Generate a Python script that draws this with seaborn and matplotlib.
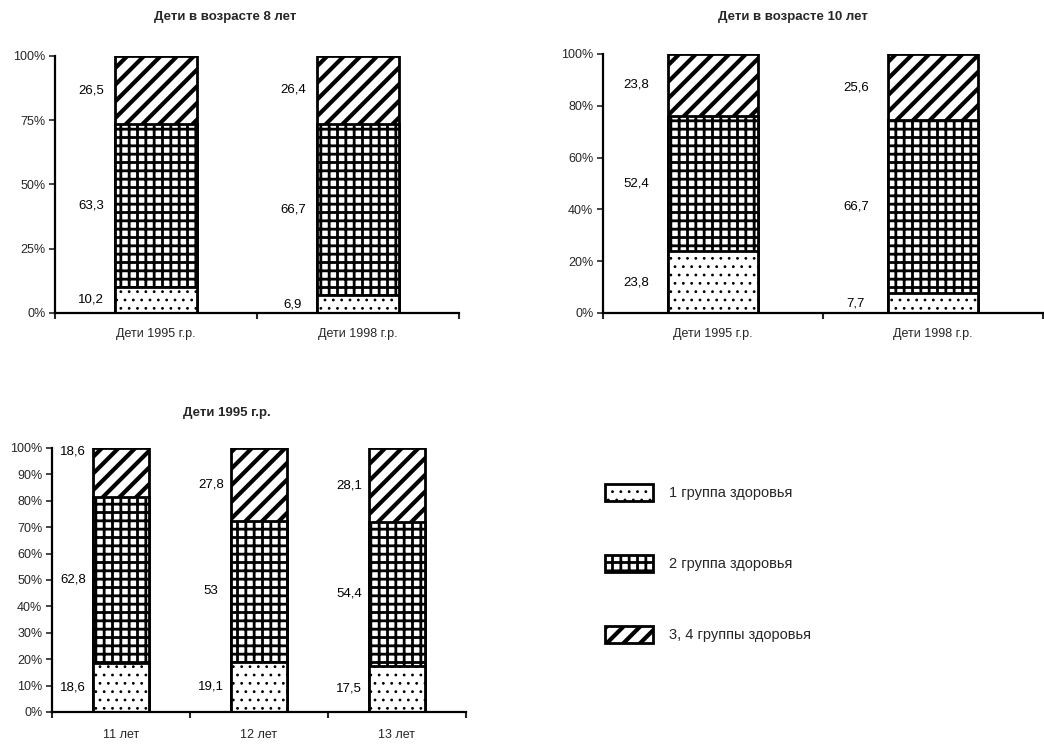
import matplotlib
matplotlib.use("Agg")
import matplotlib.pyplot as plt
import seaborn as sns
import pandas as pd
import numpy as np
from matplotlib.patches import Patch

# ---------------- data ----------------
groups = ["1 группа здоровья", "2 группа здоровья", "3, 4 группы здоровья"]

titles = ["Дети в возрасте 8 лет", "Дети в возрасте 10 лет", "Дети 1995 г.р."]

a8_cats = ["Дети 1995 г.р.", "Дети 1998 г.р."]
a8_g1 = [10.2, 6.9]
a8_g2 = [63.3, 66.7]
a8_g3 = [26.5, 26.4]

a10_cats = ["Дети 1995 г.р.", "Дети 1998 г.р."]
a10_g1 = [23.8, 7.7]
a10_g2 = [52.4, 66.7]
a10_g3 = [23.8, 25.6]

c95_cats = ["11 лет", "12 лет", "13 лет"]
c95_g1 = [18.6, 19.1, 17.5]
c95_g2 = [62.8, 53.0, 54.4]
c95_g3 = [18.6, 27.8, 28.1]

yticks_8 = [0, 25, 50, 75, 100]
yticks_10 = [0, 20, 40, 60, 80, 100]
yticks_95 = [0, 10, 20, 30, 40, 50, 60, 70, 80, 90, 100]

# ---------------- style ----------------
sns.set_style("ticks")
plt.rcParams["font.family"] = ["Liberation Sans Narrow", "Liberation Sans", "DejaVu Sans"]
plt.rcParams["hatch.color"] = "black"

HATCHES = ["..", "++", "//"]
HATCH_LW = [0.8, 2.0, 3.0]

fig = plt.figure(figsize=(10.44, 7.46), dpi=100)
W, H = 1044.0, 746.0


def px_axes(l, r, t, b):
    return fig.add_axes([l / W, 1 - b / H, (r - l) / W, (b - t) / H])


def fmt(v):
    return f"{v:g}".replace(".", ",")


def set_hlw(p, lw):
    if hasattr(p, "set_hatch_linewidth"):
        p.set_hatch_linewidth(lw)
    else:
        p._hatch_linewidth = lw


def draw_chart(ax, cats, g1, g2, g3, yticks, lab_off, xpad, special=None):
    n = len(cats)
    g1 = np.array(g1, float)
    g2 = np.array(g2, float)
    g3 = np.array(g3, float)
    tot = g1 + g2 + g3
    p1 = g1 / tot * 100
    p2 = g2 / tot * 100
    p3 = g3 / tot * 100
    tops = [p1, p1 + p2, p1 + p2 + p3]
    bw = 0.41
    # draw from tallest cumulative layer to smallest
    for k in [2, 1, 0]:
        df = pd.DataFrame({"cat": cats, "val": tops[k]})
        before = len(ax.patches)
        plt.rcParams["hatch.linewidth"] = HATCH_LW[k]
        sns.barplot(data=df, x="cat", y="val", order=cats, color="white",
                    saturation=1, edgecolor="black", linewidth=2.0,
                    hatch=HATCHES[k], width=bw, errorbar=None, ax=ax)
        for p in ax.patches[before:]:
            set_hlw(p, HATCH_LW[k])
    # value labels
    segs = [(g1, np.zeros(n), p1), (g2, p1, p2), (g3, p1 + p2, p3)]
    for i in range(n):
        for k, (vals, base, hgt) in enumerate(segs):
            y = base[i] + hgt[i] / 2
            if special and (i, k) in special:
                y = special[(i, k)]
            ax.annotate(fmt(vals[i]), xy=(i - bw / 2, y), xytext=(lab_off, 0),
                        textcoords="offset points", ha="center", va="center",
                        fontsize=9.5, color="black")
    ax.set_xlim(-0.5, n - 0.5)
    ax.set_ylim(0, 100)
    ax.set_yticks(yticks)
    ax.set_yticklabels([f"{t}%" for t in yticks], fontsize=9)
    ax.set_xticks(range(n))
    ax.set_xticklabels(cats, fontsize=9)
    ax.set_xticks(np.arange(-0.5, n), minor=True)
    ax.tick_params(axis="x", which="major", length=0, pad=xpad)
    ax.tick_params(axis="x", which="minor", length=4, width=1.5, direction="out")
    ax.tick_params(axis="y", length=4, width=1.2, direction="out", pad=3)
    ax.set_xlabel("")
    ax.set_ylabel("")
    for s in ["top", "right"]:
        ax.spines[s].set_visible(False)
    for s in ["left", "bottom"]:
        ax.spines[s].set_linewidth(1.6)
        ax.spines[s].set_color("black")


ax1 = px_axes(55, 459, 56, 313)
draw_chart(ax1, a8_cats, a8_g1, a8_g2, a8_g3, yticks_8, -17, 11)

ax2 = px_axes(603, 1043, 54, 313)
draw_chart(ax2, a10_cats, a10_g1, a10_g2, a10_g3, yticks_10, -23, 11)

ax3 = px_axes(52, 466, 448, 712)
draw_chart(ax3, c95_cats, c95_g1, c95_g2, c95_g3, yticks_95, -14, 12,
           special={(0, 2): 98.5})

# titles
fig.text(225 / W, 1 - 17 / H, titles[0], ha="center", va="center",
         fontsize=9.5, fontweight="bold")
fig.text(793 / W, 1 - 17 / H, titles[1], ha="center", va="center",
         fontsize=9.5, fontweight="bold")
fig.text(227 / W, 1 - 413 / H, titles[2], ha="center", va="center",
         fontsize=9.5, fontweight="bold")

# legend
handles = []
for k in range(3):
    h = Patch(facecolor="white", edgecolor="black", linewidth=2.0,
              hatch=HATCHES[k], label=groups[k])
    set_hlw(h, HATCH_LW[k])
    handles.append(h)
fs = 10.5
fpx = fs * 100 / 72
leg = fig.legend(handles=handles, loc="upper left",
                 bbox_to_anchor=(605 / W, 1 - 484 / H), frameon=False,
                 fontsize=fs, borderpad=0, borderaxespad=0,
                 handlelength=48 / fpx, handleheight=20 / fpx,
                 handletextpad=16 / fpx, labelspacing=(74.5 - 20) / fpx)
for k, p in enumerate(leg.get_patches()):
    set_hlw(p, HATCH_LW[k])

fig.savefig("out.png", dpi=100)
